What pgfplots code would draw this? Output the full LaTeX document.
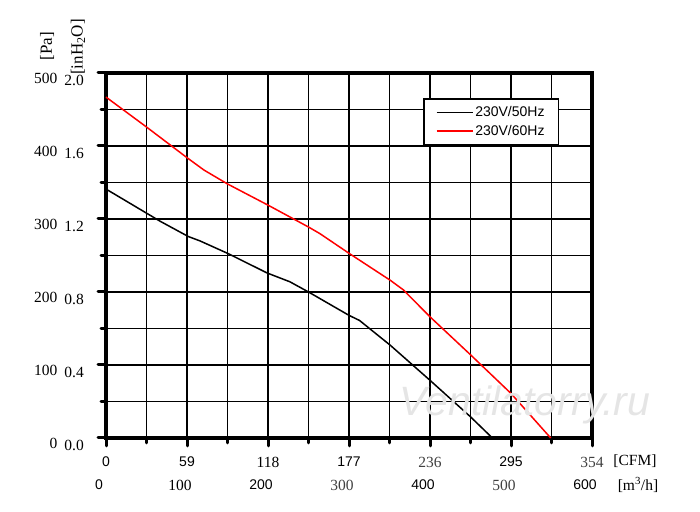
\documentclass[border=0pt]{standalone}
\usepackage{fontspec}
\setmainfont{Liberation Serif}
\newfontfamily\arial{Liberation Sans}
\usepackage{pgfplots}
\pgfplotsset{compat=1.18}
\newcommand\sz{\fontsize{15.5bp}{17bp}\selectfont}
\newcommand\szb{\fontsize{17bp}{19bp}\selectfont}
\newcommand\sa{\fontsize{14bp}{16bp}\selectfont}
\newcommand\yl[2]{\makebox[26bp][r]{#1}\hspace{7bp}\raisebox{-2bp}{#2}}
\begin{document}
\begin{tikzpicture}[x=1bp,y=1bp]
\useasboundingbox (0,0) rectangle (700,512);
\begin{axis}[
  at={(106bp,74bp)}, anchor=south west,
  scale only axis, width=486bp, height=365bp,
  xmin=0, xmax=600, ymin=0, ymax=500,
  xtick={0,100,...,600}, minor xtick={50,150,...,550},
  ytick={0,100,...,500}, minor ytick={50,150,...,450},
  xtick pos=bottom, ytick pos=left,
  grid=both,
  grid style={line width=1.5bp, black},
  major grid style={line width=1.5bp, black},
  minor grid style={line width=1.5bp, black},
  axis line style={line width=3.8bp},
  tick align=outside,
  major tick length=8bp, minor tick length=5bp,
  major tick style={line width=3bp, line cap=round, black},
  minor tick style={line width=3bp, line cap=round, black},
  xticklabels={{\arial\sa 0},{\arial\sa 59},{118},{\arial\sa 177},{\color{darkgray}236},{\arial\sa 295},{\color{darkgray}354}},
  xticklabel style={font=\sz, inner sep=0pt, yshift=-11bp},
  extra x ticks={0,100,...,600},
  extra x tick labels={{\arial\sa 0},{100},{\arial\sa 200},{\color{darkgray}300},{\arial\sa 400},{\color{darkgray}500},{\arial\sa 600}},
  extra x tick style={grid=none, major tick length=0pt, xticklabel style={yshift=-31bp, xshift=-7bp}},
  yticklabels={{\yl{0}{0.0}},{\yl{100}{0.4}},{\yl{200}{0.8}},{\yl{300}{1.2}},{\yl{400}{1.6}},{\yl{500}{2.0}}},
  yticklabel style={font=\sz, inner sep=0pt, anchor=east, xshift=-14bp, yshift=-6bp},
  legend style={at={(0.652,0.932)}, anchor=north west, draw=black, line width=1.8bp,
    font=\arial\sa, inner xsep=12bp, inner ysep=6bp, row sep=3bp, cells={anchor=west}},
  legend image code/.code={\draw[#1] (0bp,0bp) -- (36bp,0bp);},
  clip=false,
]
\addplot[black, line width=1.5bp] coordinates {
(0,341) (66.7,297) (101.6,276) (116,270) (150,253) (199,226) (227,214) (250,200)
(300,168) (313,161) (351,127) (400,79) (450,29) (477,0)};
\addlegendentry{230V/50Hz\hspace{4bp}}
\addplot[red, line width=1.5bp] coordinates {
(0,467) (50,426) (100,384) (121,367) (150,348) (200,319) (250,289) (264,280)
(300,253) (351,216) (367,203) (400,166) (450,114) (500,61) (549,0)};
\addlegendentry{230V/60Hz\hspace{4bp}}
\end{axis}
\node[font=\arial\itshape\fontsize{41bp}{41bp}\selectfont, text=black!10] at (525,107) {Ventilatorry.ru};
\node[rotate=90, font=\szb] at (47,466) {[Pa]};
\node[rotate=90, font=\szb] at (78,465) {[inH\textsubscript{2}O]};
\node[font=\sz] at (635,51) {[CFM]};
\node[font=\sz] at (638,27) {[m\textsuperscript{3}/h]};
\end{tikzpicture}
\end{document}
